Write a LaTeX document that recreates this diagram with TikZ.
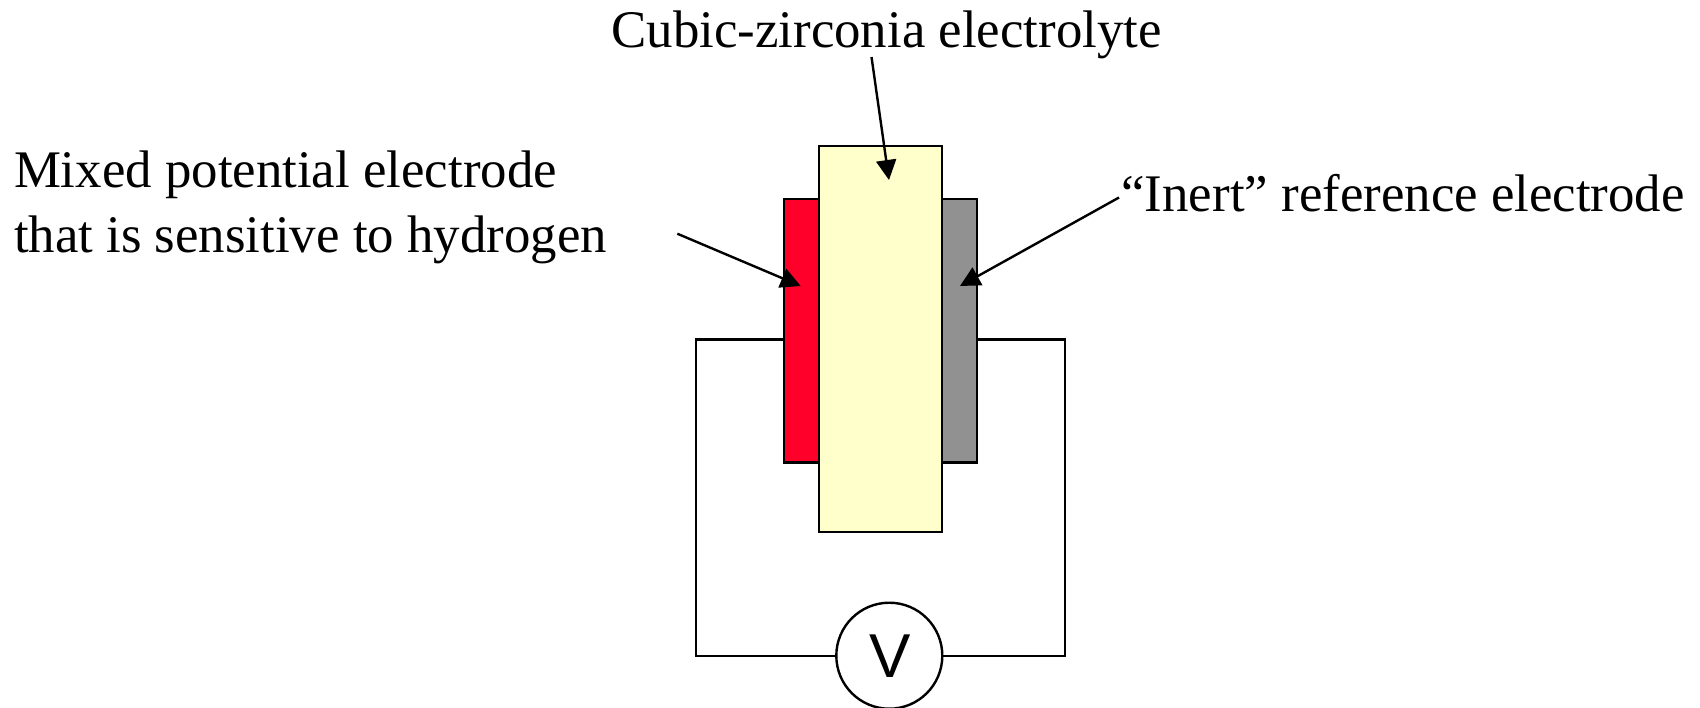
\documentclass[tikz,border=0pt]{standalone}
\usepackage{fontspec}
\setmainfont{Liberation Serif}
\newfontfamily\voltfont{Liberation Sans}
\usetikzlibrary{arrows.meta}
\definecolor{electrolyte}{RGB}{255,255,204}
\definecolor{mixedred}{RGB}{255,0,43}
\definecolor{inertgrey}{RGB}{145,145,145}
\tikzset{
  x=0.5pt,y=-0.5pt,
  plate/.style={draw=black,line width=1.2pt,rectangle,inner sep=0pt,outer sep=0pt},
  wire/.style={draw=black,line width=1.2pt,line join=miter},
  pointer/.style={draw=black,line width=1.2pt,-{Triangle[length=10pt,width=10pt]}},
  caption/.style={font=\fontsize{26.42pt}{32.5pt}\selectfont,inner sep=0pt,outer sep=0pt}
}
\begin{document}
\begin{tikzpicture}
\useasboundingbox (0,0) rectangle (1700,707);
\node[plate,fill=mixedred,minimum width=17.5pt,minimum height=131.8pt] (red) at (801.2,330.5) {};
\node[plate,fill=inertgrey,minimum width=17.5pt,minimum height=131.8pt] (grey) at (959.3,330.5) {};
\node[plate,fill=electrolyte,minimum width=61.65pt,minimum height=193.15pt] (cell) at (880.35,339.1) {};
\node[draw=black,line width=1.2pt,circle,fill=white,inner sep=0pt,outer sep=0pt,minimum size=53pt] (volt) at (889.3,655.7) {};
\node[inner sep=0pt,font=\voltfont\fontsize{31pt}{31pt}\selectfont] (vlabel) at (890.5,656) {V};
\coordinate (wl) at (695.7,339.3);
\coordinate (wlb) at (695.7,655.7);
\coordinate (wr) at (1064.7,339.3);
\coordinate (wrb) at (1064.7,655.7);
\draw[wire] (red.west |- wl) -- (wl) -- (wlb) -- (volt.west);
\draw[wire] (grey.east |- wr) -- (wr) -- (wrb) -- (volt.east);
\node[caption,anchor=base] (top) at (886.5,47) {Cubic-zirconia electrolyte};
\node[caption,anchor=base west,align=left] (left1) at (14,187) {Mixed potential electrode};
\node[caption,anchor=base west,align=left] (left2) at (14,252) {that is sensitive to hydrogen};
\node[caption,anchor=base west] (right) at (1121.5,211) {“Inert” reference electrode};
\coordinate (topstart) at (871.5,57);
\coordinate (toptip) at (889,180);
\coordinate (leftstart) at (677.3,233.7);
\coordinate (lefttip) at (800.7,286);
\coordinate (rightstart) at (1119,197.5);
\coordinate (righttip) at (960,286);
\draw[pointer] (topstart) -- (toptip);
\draw[pointer] (leftstart) -- (lefttip);
\draw[pointer] (rightstart) -- (righttip);
\end{tikzpicture}
\end{document}
